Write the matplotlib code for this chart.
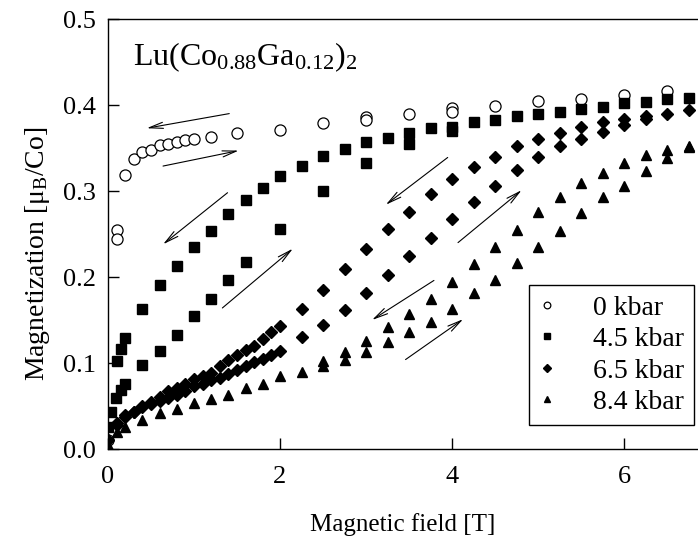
import numpy as np
import matplotlib
matplotlib.use("Agg")
import matplotlib.pyplot as plt

plt.rcParams['font.family'] = ['Liberation Serif', 'DejaVu Serif']
plt.rcParams['mathtext.fontset'] = 'custom'
plt.rcParams['mathtext.rm'] = 'Liberation Serif'
plt.rcParams['mathtext.it'] = 'Liberation Serif:italic'

# 0 kbar (open circles)
h0 = [0.0, 0.1, 0.1, 0.2, 0.3, 0.4, 0.5, 0.6, 0.7, 0.8, 0.9, 1.0, 1.2, 1.5, 2.0,
      2.5, 3.0, 3.0, 3.5, 4.0, 4.0, 4.5, 5.0, 5.5, 6.0, 6.5]
m0 = [0.010, 0.255, 0.244, 0.319, 0.337, 0.345, 0.348, 0.353, 0.355, 0.357, 0.359,
      0.360, 0.363, 0.368, 0.371, 0.379, 0.386, 0.383, 0.390, 0.396, 0.392, 0.399,
      0.405, 0.407, 0.412, 0.416]

# 4.5 kbar, field up / field down
h45_up = [0.0, 0.04, 0.09, 0.15, 0.2, 0.4, 0.6, 0.8, 1.0, 1.2, 1.4, 1.6, 2.0,
          2.5, 3.0, 3.5, 4.0]
m45_up = [0.026, 0.043, 0.059, 0.069, 0.076, 0.098, 0.114, 0.133, 0.155, 0.174,
          0.197, 0.218, 0.256, 0.300, 0.332, 0.355, 0.370]
h45_dn = [0.1, 0.15, 0.2, 0.4, 0.6, 0.8, 1.0, 1.2, 1.4, 1.6, 1.8, 2.0, 2.25, 2.5,
          2.75, 3.0, 3.25, 3.5, 3.75, 4.0, 4.25, 4.5, 4.75, 5.0, 5.25, 5.5, 5.75,
          6.0, 6.25, 6.5, 6.75]
m45_dn = [0.102, 0.116, 0.129, 0.163, 0.191, 0.213, 0.235, 0.254, 0.273, 0.289,
          0.303, 0.317, 0.329, 0.341, 0.349, 0.357, 0.362, 0.368, 0.373, 0.375,
          0.380, 0.383, 0.387, 0.389, 0.392, 0.395, 0.398, 0.402, 0.403, 0.407, 0.408]

# 6.5 kbar
h65_up = [0.0, 0.1, 0.2, 0.3, 0.4, 0.5, 0.6, 0.7, 0.8, 0.9, 1.0, 1.1, 1.2, 1.3,
          1.4, 1.5, 1.6, 1.7, 1.8, 1.9, 2.0, 2.25, 2.5, 2.75, 3.0, 3.25, 3.5,
          3.75, 4.0, 4.25, 4.5, 4.75, 5.0, 5.25, 5.5, 5.75, 6.0, 6.25]
m65_up = [0.010, 0.028, 0.037, 0.043, 0.049, 0.052, 0.056, 0.059, 0.063, 0.068,
          0.073, 0.076, 0.080, 0.082, 0.087, 0.092, 0.097, 0.101, 0.105, 0.109,
          0.114, 0.130, 0.144, 0.162, 0.181, 0.202, 0.224, 0.245, 0.267, 0.287,
          0.306, 0.324, 0.339, 0.352, 0.361, 0.369, 0.377, 0.384]
h65_dn = [0.1, 0.2, 0.3, 0.4, 0.5, 0.6, 0.7, 0.8, 0.9, 1.0, 1.1, 1.2, 1.3, 1.4,
          1.5, 1.6, 1.7, 1.8, 1.9, 2.0, 2.25, 2.5, 2.75, 3.0, 3.25, 3.5, 3.75,
          4.0, 4.25, 4.5, 4.75, 5.0, 5.25, 5.5, 5.75, 6.0, 6.25, 6.5, 6.75]
m65_dn = [0.030, 0.040, 0.043, 0.050, 0.055, 0.061, 0.067, 0.071, 0.076, 0.081,
          0.085, 0.088, 0.096, 0.103, 0.109, 0.115, 0.120, 0.128, 0.136, 0.143,
          0.163, 0.185, 0.209, 0.232, 0.256, 0.276, 0.297, 0.314, 0.328, 0.340,
          0.352, 0.361, 0.368, 0.374, 0.380, 0.384, 0.387, 0.390, 0.394]

# 8.4 kbar
h84_up = [0.0, 0.1, 0.2, 0.4, 0.6, 0.8, 1.0, 1.2, 1.4, 1.6, 1.8, 2.0, 2.25, 2.5,
          2.75, 3.0, 3.25, 3.5, 3.75, 4.0, 4.25, 4.5, 4.75, 5.0, 5.25, 5.5, 5.75,
          6.0, 6.25, 6.5, 6.75]
m84_up = [0.005, 0.020, 0.026, 0.034, 0.042, 0.047, 0.053, 0.058, 0.063, 0.071,
          0.076, 0.085, 0.089, 0.096, 0.104, 0.113, 0.124, 0.136, 0.148, 0.163,
          0.181, 0.197, 0.216, 0.235, 0.253, 0.274, 0.293, 0.306, 0.323, 0.338, 0.351]
h84_dn = [2.5, 2.75, 3.0, 3.25, 3.5, 3.75, 4.0, 4.25, 4.5, 4.75, 5.0, 5.25, 5.5,
          5.75, 6.0, 6.25, 6.5, 6.75]
m84_dn = [0.102, 0.113, 0.126, 0.142, 0.157, 0.175, 0.194, 0.215, 0.235, 0.255,
          0.275, 0.293, 0.309, 0.321, 0.333, 0.342, 0.348, 0.352]

# sweep arrows (tail -> head)
arrows = [((1.41, 0.390), (0.45, 0.373)),
          ((0.64, 0.329), (1.52, 0.347)),
          ((1.39, 0.298), (0.64, 0.238)),
          ((1.33, 0.164), (2.15, 0.233)),
          ((3.95, 0.339), (3.23, 0.284)),
          ((4.07, 0.240), (4.81, 0.301)),
          ((3.79, 0.196), (3.07, 0.150)),
          ((3.46, 0.104), (4.13, 0.151))]

fig = plt.figure(figsize=(6.98, 5.42), dpi=100)
ax = fig.add_axes([108/698, 1-449/542, 590/698, 430/542])

ax.plot(h0, m0, 'o', mfc='white', mec='black', mew=0.9, ms=8, ls='none', label='0 kbar')
ax.plot(h45_up, m45_up, 's', color='black', ms=7.2, ls='none', label='4.5 kbar')
ax.plot(h45_dn, m45_dn, 's', color='black', ms=7.2, ls='none')
ax.plot(h65_up, m65_up, 'D', color='black', ms=6.5, ls='none', label='6.5 kbar')
ax.plot(h65_dn, m65_dn, 'D', color='black', ms=6.5, ls='none')
ax.plot(h84_up, m84_up, '^', color='black', ms=7.5, ls='none', label='8.4 kbar')
ax.plot(h84_dn, m84_dn, '^', color='black', ms=7.5, ls='none')

for tail, head in arrows:
    ax.annotate('', xy=head, xytext=tail,
                arrowprops=dict(arrowstyle='->,head_length=1.0,head_width=0.22',
                                lw=0.8, color='black', shrinkA=0, shrinkB=0))

ax.set_xlim(0, 590/86)
ax.set_ylim(0, 0.5)
ax.set_xticks([0, 2, 4, 6])
ax.set_yticks([0.0, 0.1, 0.2, 0.3, 0.4, 0.5])
ax.set_yticklabels(['0.0', '0.1', '0.2', '0.3', '0.4', '0.5'])
ax.tick_params(direction='in', length=8, width=1, labelsize=19)
ax.tick_params(axis='x', pad=12)
ax.tick_params(axis='y', pad=9)
ax.spines['right'].set_visible(False)
for s in ['left', 'bottom', 'top']:
    ax.spines[s].set_linewidth(1)

ax.set_xlabel('Magnetic field [T]', fontsize=18, labelpad=18)
ax.set_ylabel('Magnetization [μ$_\\mathrm{B}$/Co]', fontsize=20)
ax.yaxis.set_label_coords(-0.095, 0.455)

ax.text(0.042, 0.95, 'Lu(Co$_{0.88}$Ga$_{0.12}$)$_2$', transform=ax.transAxes,
        fontsize=23, va='top', ha='left')

leg = ax.legend(loc='lower right', bbox_to_anchor=(0.993, 0.056), fontsize=20,
                frameon=True, fancybox=False, edgecolor='black', framealpha=1,
                markerscale=0.6, handlelength=0.6, handletextpad=1.36,
                labelspacing=0.22, borderpad=0.35, borderaxespad=0)
leg.get_frame().set_linewidth(1)

fig.savefig('out.png', dpi=100)
